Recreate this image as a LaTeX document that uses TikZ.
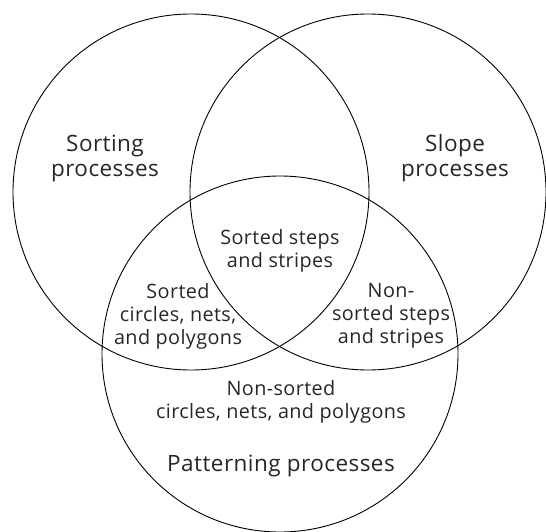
\documentclass[tikz,border=0pt]{standalone}
\usepackage{fontspec}
\setmainfont[LetterSpace=2]{Open Sans}
\tikzset{
  region/.style={align=center, text=black!85, font=\fontsize{19.8}{23}\selectfont},
  process/.style={align=center, text=black!85, font=\fontsize{22.5}{25}\selectfont},
}
\begin{document}
\begin{tikzpicture}[x=1pt, y=-1pt, line width=0.9pt]
\useasboundingbox (0,0) rectangle (546,532);
% the three process circles
\draw (191,192) circle[radius=178pt];
\draw (368,192) circle[radius=178pt];
\draw (280,354) circle[radius=178pt];
% process names
\node[process] (sorting) at (105,158) {Sorting\\processes};
\node[process] (slope) at (455,158) {Slope\\processes};
\node[process] (patterning) at (281,466) {Patterning processes};
% overlaps
\node[region] (sortsteps) at (280,251) {Sorted steps\\and stripes};
\node[region] (sortcircles) at (178,316) {Sorted\\circles, nets,\\and polygons};
\node[region] (nonsortsteps) at (391,316) {Non-\\sorted steps\\and stripes};
\node[region] (nonsortcircles) at (281,402) {Non-sorted\\circles, nets, and polygons};
\end{tikzpicture}
\end{document}
